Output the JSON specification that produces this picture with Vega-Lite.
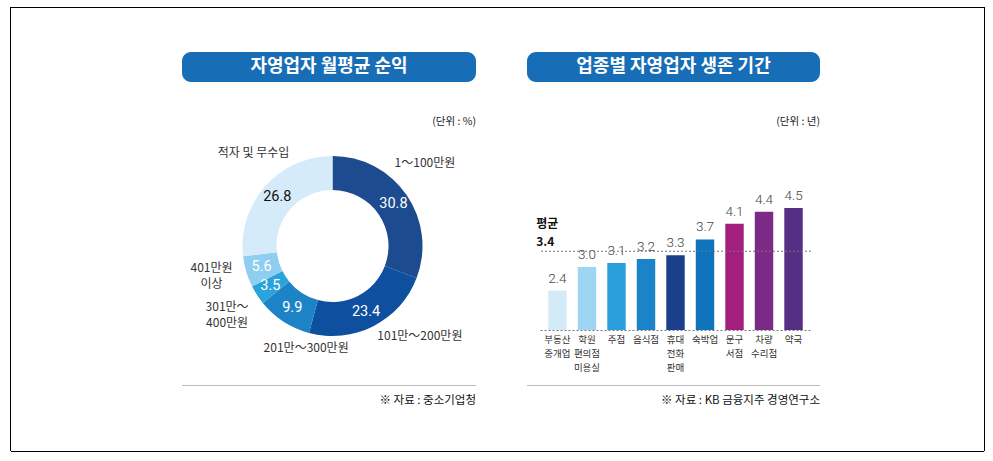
{
  "$schema": "https://vega.github.io/schema/vega-lite/v6.json",
  "padding": {"left": 10, "top": 7, "right": 0, "bottom": 0},
  "background": "white",
  "config": {"view": {"stroke": null}, "font": "Noto Sans CJK KR"},
  "datasets": {
    "income": [
      {"cat": "1～100만원", "label": "1～100만원", "value": 30.8, "order": 1},
      {"cat": "101만～200만원", "label": "101만～200만원", "value": 23.4, "order": 2},
      {"cat": "201만～300만원", "label": "201만～300만원", "value": 9.9, "order": 3},
      {"cat": "301만～400만원", "label": "301만～\n400만원", "value": 3.5, "order": 4},
      {"cat": "401만원 이상", "label": "401만원\n이상", "value": 5.6, "order": 5},
      {"cat": "적자 및 무수입", "label": "적자 및 무수입", "value": 26.8, "order": 6}
    ],
    "survival": [
      {"cat": "부동산 중개업", "years": 2.4},
      {"cat": "학원 편의점 미용실", "years": 3.0},
      {"cat": "주점", "years": 3.1},
      {"cat": "음식점", "years": 3.2},
      {"cat": "휴대 전화 판매", "years": 3.3},
      {"cat": "숙박업", "years": 3.7},
      {"cat": "문구 서점", "years": 4.1},
      {"cat": "차량 수리점", "years": 4.4},
      {"cat": "약국", "years": 4.5}
    ],
    "avg": [{"avg": 3.4, "label": "평균"}]
  },
  "spacing": 0,
  "bounds": "full",
  "resolve": {"scale": {"color": "independent", "x": "independent", "y": "independent", "theta": "independent"}},
  "hconcat": [
    {"width": 1, "height": 444, "view": {"fill": "#000000", "stroke": null}, "data": {"values": []}, "mark": "point"},
    {
      "spacing": 0,
      "bounds": "full",
      "resolve": {"scale": {"color": "independent", "x": "independent", "y": "independent", "theta": "independent"}},
      "vconcat": [
        {"width": 973, "height": 1, "view": {"fill": "#000000", "stroke": null}, "data": {"values": []}, "mark": "point"},
        {"width": 973, "height": 44, "data": {"values": []}, "mark": "point"},
        {
          "spacing": 0, "bounds": "flush",
          "hconcat": [
            {"width": 171, "height": 30, "data": {"values": []}, "mark": "point"},
            {"width": 294, "height": 30, "view": {"fill": "#176db6", "stroke": null, "cornerRadius": 9},
             "data": {"values": [{}]},
             "mark": {"type": "text", "color": "#ffffff", "fontSize": 18, "fontWeight": "bold"},
             "encoding": {"text": {"value": "자영업자 월평균 순익"}}},
            {"width": 51, "height": 30, "data": {"values": []}, "mark": "point"},
            {"width": 293, "height": 30, "view": {"fill": "#176db6", "stroke": null, "cornerRadius": 9},
             "data": {"values": [{}]},
             "mark": {"type": "text", "color": "#ffffff", "fontSize": 18, "fontWeight": "bold"},
             "encoding": {"text": {"value": "업종별 자영업자 생존 기간"}}},
            {"width": 164, "height": 30, "data": {"values": []}, "mark": "point"}
          ]
        },
        {
          "spacing": 0, "bounds": "flush",
          "hconcat": [
            {"width": 171, "height": 45, "data": {"values": []}, "mark": "point"},
            {"width": 294, "height": 45, "data": {"values": [{}]},
             "mark": {"type": "text", "align": "right", "baseline": "bottom", "fontSize": 10.5, "color": "#222222"},
             "encoding": {"x": {"value": "width"}, "y": {"value": "height"}, "text": {"value": "(단위 : %)"}}},
            {"width": 51, "height": 45, "data": {"values": []}, "mark": "point"},
            {"width": 293, "height": 45, "data": {"values": [{}]},
             "mark": {"type": "text", "align": "right", "baseline": "bottom", "fontSize": 10.5, "color": "#222222"},
             "encoding": {"x": {"value": "width"}, "y": {"value": "height"}, "text": {"value": "(단위 : 년)"}}},
            {"width": 164, "height": 45, "data": {"values": []}, "mark": "point"}
          ]
        },
        {
          "spacing": 0, "bounds": "flush",
          "resolve": {"scale": {"color": "independent", "x": "independent", "y": "independent", "theta": "independent"}},
          "hconcat": [
            {"width": 171, "height": 257, "data": {"values": []}, "mark": "point"},
            {
              "width": 301, "height": 236,
              "data": {"name": "income"},
              "encoding": {
                "theta": {"field": "value", "type": "quantitative", "stack": true},
                "order": {"field": "order", "type": "quantitative"}
              },
              "layer": [
                {"mark": {"type": "arc", "outerRadius": 90, "innerRadius": 56},
                 "encoding": {"color": {"field": "cat", "type": "nominal", "legend": null,
                   "scale": {"domain": ["1～100만원", "101만～200만원", "201만～300만원", "301만～400만원", "401만원 이상", "적자 및 무수입"],
                             "range": ["#1d4b8f", "#0e4fa0", "#1c84c6", "#2aa3dc", "#8ecef1", "#d5ebf9"]}}}},
                {"mark": {"type": "text", "radius": 74, "fontSize": 14.5, "font": "Roboto"},
                 "encoding": {"text": {"field": "value", "type": "quantitative", "format": ".1f"},
                   "color": {"condition": {"test": "datum.cat === '적자 및 무수입'", "value": "#111111"}, "value": "#ffffff"}}},
                {"mark": {"type": "text", "radius": 122, "dx": -8, "dy": -14, "fontSize": 12, "color": "#333333", "lineBreak": "\n", "lineHeight": 16},
                 "encoding": {"text": {"condition": {"test": "datum.order === 1", "field": "label"}, "value": ""}}},
                {"mark": {"type": "text", "radius": 122, "dx": 32, "dy": -19, "fontSize": 12, "color": "#333333", "lineBreak": "\n", "lineHeight": 16},
                 "encoding": {"text": {"condition": {"test": "datum.order === 2", "field": "label"}, "value": ""}}},
                {"mark": {"type": "text", "radius": 122, "dx": 40, "dy": 0, "fontSize": 12, "color": "#333333", "lineBreak": "\n", "lineHeight": 16},
                 "encoding": {"text": {"condition": {"test": "datum.order === 3", "field": "label"}, "value": ""}}},
                {"mark": {"type": "text", "radius": 122, "dx": -3, "dy": -5, "fontSize": 12, "color": "#333333", "lineBreak": "\n", "lineHeight": 16},
                 "encoding": {"text": {"condition": {"test": "datum.order === 4", "field": "label"}, "value": ""}}},
                {"mark": {"type": "text", "radius": 122, "dx": -4, "dy": -13, "fontSize": 12, "color": "#333333", "lineBreak": "\n", "lineHeight": 16},
                 "encoding": {"text": {"condition": {"test": "datum.order === 5", "field": "label"}, "value": ""}}},
                {"mark": {"type": "text", "radius": 122, "dx": 12, "dy": -12, "fontSize": 12, "color": "#333333", "lineBreak": "\n", "lineHeight": 16},
                 "encoding": {"text": {"condition": {"test": "datum.order === 6", "field": "label"}, "value": ""}}}
              ]
            },
            {"width": 57, "height": 257, "data": {"values": []}, "mark": "point"},
            {
              "width": 271, "height": 202,
              "data": {"name": "survival"},
              "layer": [
                {"mark": {"type": "bar"},
                 "encoding": {
                   "x": {"field": "cat", "type": "nominal", "sort": null,
                         "scale": {"paddingInner": 0.375, "paddingOuter": 0.28},
                         "axis": {"title": null, "ticks": false, "domain": true, "domainDash": [2, 2], "domainColor": "#777777",
                                  "labelAngle": 0, "labelFontSize": 9.5, "labelColor": "#333333", "labelPadding": 4,
                                  "labelLineHeight": 14, "labelOverlap": false, "labelBound": false,
                                  "labelExpr": "split(datum.label, ' ')"}},
                   "y": {"field": "years", "type": "quantitative", "scale": {"domain": [1.4, 6.53], "zero": false, "clamp": true}, "axis": null},
                   "color": {"field": "cat", "type": "nominal", "legend": null,
                             "scale": {"domain": ["부동산 중개업", "학원 편의점 미용실", "주점", "음식점", "휴대 전화 판매", "숙박업", "문구 서점", "차량 수리점", "약국"],
                                       "range": ["#d3ebf9", "#9dd5f3", "#2a9fdb", "#1b83c7", "#1c3f8b", "#0f73bb", "#a21f7e", "#7b2a86", "#552f86"]}}
                 }},
                {"mark": {"type": "text", "baseline": "bottom", "dy": -5, "fontSize": 13.5, "color": "#444444", "font": "Roboto", "fontWeight": 300},
                 "encoding": {
                   "x": {"field": "cat", "type": "nominal", "sort": null},
                   "y": {"field": "years", "type": "quantitative", "scale": {"domain": [1.4, 6.53], "zero": false, "clamp": true}},
                   "text": {"field": "years", "type": "quantitative", "format": ".1f"}
                 }},
                {"data": {"name": "avg"},
                 "mark": {"type": "rule", "strokeDash": [2, 2], "color": "#777777", "strokeWidth": 1},
                 "encoding": {"y": {"field": "avg", "type": "quantitative", "scale": {"domain": [1.4, 6.53], "zero": false, "clamp": true}}}},
                {"data": {"name": "avg"},
                 "mark": {"type": "text", "align": "left", "baseline": "bottom", "dx": -12, "dy": -20, "fontSize": 12, "fontWeight": "bold", "color": "#111111"},
                 "encoding": {
                   "x": {"datum": "부동산 중개업", "type": "nominal", "bandPosition": 0},
                   "y": {"field": "avg", "type": "quantitative", "scale": {"domain": [1.4, 6.53], "zero": false, "clamp": true}},
                   "text": {"field": "label", "type": "nominal"}
                 }},
                {"data": {"name": "avg"},
                 "mark": {"type": "text", "align": "left", "baseline": "bottom", "dx": -12, "dy": -2, "fontSize": 12, "fontWeight": "bold", "color": "#111111"},
                 "encoding": {
                   "x": {"datum": "부동산 중개업", "type": "nominal", "bandPosition": 0},
                   "y": {"field": "avg", "type": "quantitative", "scale": {"domain": [1.4, 6.53], "zero": false, "clamp": true}},
                   "text": {"field": "avg", "type": "quantitative", "format": ".1f"}
                 }}
              ]
            },
            {"width": 173, "height": 257, "data": {"values": []}, "mark": "point"}
          ]
        },
        {
          "spacing": 0, "bounds": "flush",
          "hconcat": [
            {"width": 171, "height": 1, "data": {"values": []}, "mark": "point"},
            {"width": 294, "height": 1, "view": {"fill": "#bdbdbd", "stroke": null}, "data": {"values": []}, "mark": "point"},
            {"width": 51, "height": 1, "data": {"values": []}, "mark": "point"},
            {"width": 293, "height": 1, "view": {"fill": "#bdbdbd", "stroke": null}, "data": {"values": []}, "mark": "point"},
            {"width": 164, "height": 1, "data": {"values": []}, "mark": "point"}
          ]
        },
        {
          "spacing": 0, "bounds": "flush",
          "hconcat": [
            {"width": 171, "height": 30, "data": {"values": []}, "mark": "point"},
            {"width": 294, "height": 30, "data": {"values": [{}]},
             "mark": {"type": "text", "align": "right", "fontSize": 11.5, "color": "#111111"},
             "encoding": {"x": {"value": "width"}, "text": {"value": "※ 자료 : 중소기업청"}}},
            {"width": 51, "height": 30, "data": {"values": []}, "mark": "point"},
            {"width": 293, "height": 30, "data": {"values": [{}]},
             "mark": {"type": "text", "align": "right", "fontSize": 11.5, "color": "#111111"},
             "encoding": {"x": {"value": "width"}, "text": {"value": "※ 자료 : KB 금융지주 경영연구소"}}},
            {"width": 164, "height": 30, "data": {"values": []}, "mark": "point"}
          ]
        },
        {"width": 973, "height": 35, "data": {"values": []}, "mark": "point"},
        {"width": 973, "height": 1, "view": {"fill": "#000000", "stroke": null}, "data": {"values": []}, "mark": "point"}
      ]
    },
    {"width": 1, "height": 444, "view": {"fill": "#000000", "stroke": null}, "data": {"values": []}, "mark": "point"}
  ]
}
